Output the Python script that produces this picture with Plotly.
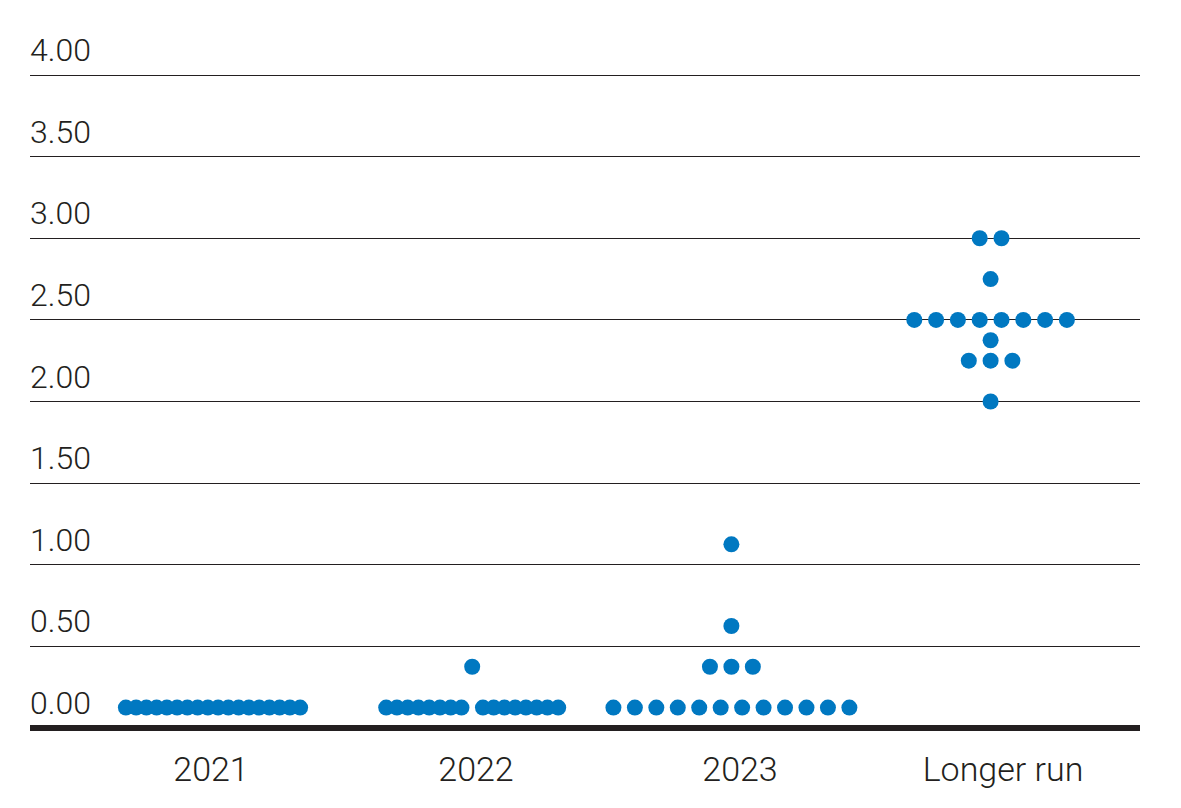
import plotly.graph_objects as go

# ---- data ----
categories = ["2021", "2022", "2023", "Longer run"]
levels_2021 = [0.125]
counts_2021 = [18]
levels_2022 = [0.125, 0.375]
counts_2022 = [16, 1]
levels_2023 = [0.125, 0.375, 0.625, 1.125]
counts_2023 = [12, 3, 1, 1]
levels_longer = [2.0, 2.25, 2.375, 2.5, 2.75, 3.0]
counts_longer = [1, 3, 1, 8, 1, 2]
y_ticks = [0.0, 0.5, 1.0, 1.5, 2.0, 2.5, 3.0, 3.5, 4.0]
y_tick_labels = ["0.00", "0.50", "1.00", "1.50", "2.00", "2.50", "3.00", "3.50", "4.00"]

# ---- layout / style constants ----
PAGE_OFF = 8                      # default body margin of the html page
W, H = 1181, 808
ML, MT, MB = 30 - PAGE_OFF, 60 - PAGE_OFF, 70
PLOT_W = 1110
MR = W - ML - PLOT_W
PX_PER_UNIT = 163.25
Y1 = 4 + (75 - 60) / PX_PER_UNIT
Y0 = Y1 - (H - MT - MB) / PX_PER_UNIT
X0 = 30                           # x-axis units = screen pixels
dot_center = [213 + 259.2 * i for i in range(4)]
label_center = [211, 476, 740, 1003]
dot_spacing = [10.25, 10.75, 21.45, 21.8]
center_gap = [False, True, False, False]
DOT_COLOR = "#0078c1"
INK = "#231f20"
FONT = "Roboto"

groups = [
    (levels_2021, counts_2021),
    (levels_2022, counts_2022),
    (levels_2023, counts_2023),
    (levels_longer, counts_longer),
]

xs, ys = [], []
for ci, (levels, counts) in enumerate(groups):
    for lv, n in zip(levels, counts):
        s = dot_spacing[ci]
        for k in range(n):
            off = (k - (n - 1) / 2) * s
            if center_gap[ci] and n > 1 and n % 2 == 0:
                off += s / 2 if off > 0 else -s / 2
            xs.append(dot_center[ci] + off)
            ys.append(lv)

fig = go.Figure()
fig.add_trace(go.Scatter(
    x=xs, y=ys, mode="markers",
    marker=dict(size=16, color=DOT_COLOR, line=dict(width=0)),
    hoverinfo="y", showlegend=False,
))

annotations = []
for v, t in zip(y_ticks, y_tick_labels):
    annotations.append(dict(
        x=0, xref="paper", xanchor="left", xshift=-2,
        y=v, yref="y", yanchor="middle", yshift=25,
        text=t, showarrow=False,
        font=dict(family=FONT, size=32, color=INK, weight=300),
    ))

fig.update_layout(
    width=W, height=H,
    margin=dict(l=ML, r=MR, t=MT, b=MB, pad=0),
    paper_bgcolor="white", plot_bgcolor="white",
    annotations=annotations,
    xaxis=dict(
        range=[X0, X0 + PLOT_W],
        tickvals=label_center, ticktext=categories,
        showgrid=False, zeroline=False, showline=False, ticks="",
        tickfont=dict(family=FONT, size=34, color=INK, weight=300),
        fixedrange=True,
    ),
    yaxis=dict(
        range=[Y0, Y1],
        tickvals=y_ticks, showticklabels=False, ticks="",
        showgrid=True, gridcolor=INK, gridwidth=1,
        zeroline=True, zerolinecolor=INK, zerolinewidth=6,
        showline=False, fixedrange=True,
    ),
)

fig.write_html("out.html")
